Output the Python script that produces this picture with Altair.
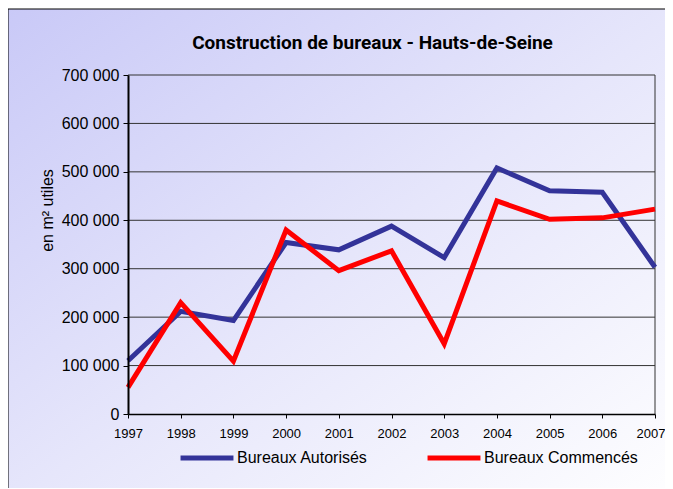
import altair as alt
import pandas as pd

years = [1997, 1998, 1999, 2000, 2001, 2002, 2003, 2004, 2005, 2006, 2007]
autorises = [110000, 212000, 193000, 354000, 339000, 388000, 323000, 508000, 461000, 458000, 303000]
commences = [55000, 230000, 109000, 380000, 296000, 337000, 145000, 440000, 402000, 405000, 423000]
series_names = ["Bureaux Autorisés", "Bureaux Commencés"]
series_colors = ["#333399", "#FF0000"]
grid_values = [100000, 200000, 300000, 400000, 500000, 600000, 700000]
y_ticks = [0, 100000, 200000, 300000, 400000, 500000, 600000, 700000]

W, H = 527, 339
PL, PT, PR, PB = 120, 67, 10, 74
FONT = "Liberation Sans"

df = pd.DataFrame({
    "annee": years * 2,
    "valeur": autorises + commences,
    "serie": [series_names[0]] * len(years) + [series_names[1]] * len(years),
})
grid_df = pd.DataFrame({"g": grid_values})
one = pd.DataFrame({"a": [0]})

gradient = alt.Gradient(
    gradient="linear", x1=0, y1=0, x2=1, y2=1,
    stops=[alt.GradientStop(color="#c9c9f7", offset=0),
           alt.GradientStop(color="#e6e6fb", offset=0.5),
           alt.GradientStop(color="#ffffff", offset=1)],
)

background = alt.Chart(one).mark_rect(fill=gradient, stroke="black", strokeWidth=1).encode(
    x=alt.value(-PL), x2=alt.value(W + PR + 20),
    y=alt.value(-PT + 1), y2=alt.value(H + PB + 20),
)

xscale = alt.Scale(domain=[1997, 2007], nice=False, zero=False)
yscale = alt.Scale(domain=[0, 700000], nice=False)

x_axis = alt.Axis(values=years, format="d", title=None, grid=False, zindex=1,
                  labelFont=FONT, labelFontSize=13, labelColor="black",
                  labelPadding=9, tickSize=4, tickColor="black",
                  domainColor="black", domainWidth=1.5, labelFlush=False,
                  labelAlign={"condition": {"test": "datum.value == 2007", "value": "right"}, "value": "center"},
                  labelOffset={"condition": {"test": "datum.value == 2007", "value": 10}, "value": 0})
y_axis = alt.Axis(values=y_ticks, title="en m² utiles", grid=False, zindex=1,
                  labelExpr="datum.value == 0 ? '0' : format(datum.value / 1000, 'd') + ' 000'",
                  labelFont=FONT, labelFontSize=16, labelColor="black",
                  labelPadding=4, tickSize=5, tickColor="black",
                  domainColor="black", domainWidth=2,
                  titleFont=FONT, titleFontSize=16, titleFontWeight="normal",
                  titleColor="black", titlePadding=6, titleY=135)

grid = alt.Chart(grid_df).mark_rule(color="#333333", strokeWidth=1).encode(
    y=alt.Y("g:Q", scale=yscale, axis=y_axis),
    x=alt.value(0), x2=alt.value(W),
)

right_edge = alt.Chart(one).mark_rule(color="#333333", strokeWidth=1).encode(
    x=alt.datum(2007, scale=xscale, axis=x_axis), y=alt.value(0), y2=alt.value(H),
)

lines = alt.Chart(df).mark_line(strokeWidth=5, strokeJoin="miter").encode(
    x=alt.X("annee:Q", scale=xscale, axis=x_axis),
    y=alt.Y("valeur:Q", scale=yscale, axis=y_axis),
    color=alt.Color("serie:N", scale=alt.Scale(domain=series_names, range=series_colors),
                    legend=alt.Legend(title=None, orient="none", legendX=50, legendY=354,
                                      direction="horizontal", symbolType="stroke",
                                      symbolSize=2800, symbolStrokeWidth=5, zindex=1,
                                      labelFont=FONT, labelFontSize=16, labelColor="black",
                                      labelOffset=1, columnPadding=49)),
)

chart = alt.layer(background, grid, right_edge, lines).properties(
    width=W, height=H,
    autosize=alt.AutoSizeParams(type="none"),
    padding={"left": PL, "top": PT, "right": PR, "bottom": PB},
    title=alt.TitleParams("Construction de bureaux - Hauts-de-Seine",
                          font="Roboto", fontWeight="bold", fontSize=19,
                          anchor="middle", dx=-19, offset=-44, color="black", zindex=1),
).configure_view(stroke=None)

chart.save("out.html", embed_options={"renderer": "svg", "actions": False})
